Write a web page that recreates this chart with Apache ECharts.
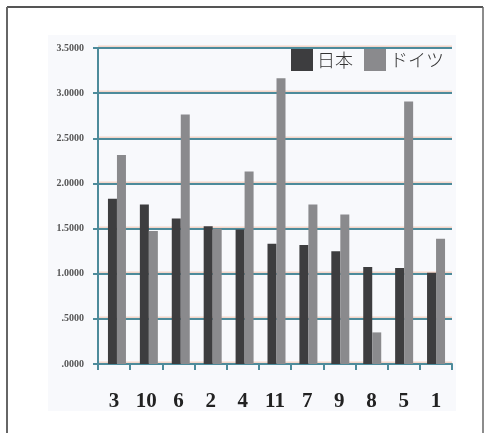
<!DOCTYPE html>
<html>
<head>
<meta charset="utf-8">
<style>
    html, body { margin: 0; padding: 0; background: #fff; }
    #chart { width: 492px; height: 433px; }
</style>
<script src="https://cdn.jsdelivr.net/npm/echarts@6/dist/echarts.min.js"></script>
</head>
<body>
<div id="chart"></div>
<script>
const categories = ['3', '10', '6', '2', '4', '11', '7', '9', '8', '5', '1']
const japan = [1.83, 1.767, 1.612, 1.527, 1.49, 1.332, 1.317, 1.25, 1.073, 1.062, 1.01]
const germany = [2.316, 1.472, 2.763, 1.498, 2.132, 3.165, 1.767, 1.656, 0.35, 2.907, 1.387]
const seriesNames = ['日本', 'ドイツ']

const teal = '#4d8b9b'
const mChart = echarts.init(document.getElementById('chart'))

// y 軸ラベル: 1 未満は先頭の 0 を落とす
const fmtY = (v) => {
    const s = v.toFixed(4)
    return v < 1 ? s.slice(1) : s
}

const option = {
    animation: false,
    graphic: [
        // 外枠
        { type: 'line', shape: { x1: 7, y1: 7, x2: 483, y2: 7 }, style: { stroke: '#555', lineWidth: 2 } },
        { type: 'line', shape: { x1: 7, y1: 7, x2: 7, y2: 433 }, style: { stroke: '#666', lineWidth: 2 } },
        { type: 'line', shape: { x1: 483, y1: 7, x2: 483, y2: 433 }, style: { stroke: '#666', lineWidth: 1.5 } },
        // 図の背景
        { type: 'rect', shape: { x: 48, y: 35, width: 408, height: 376 }, style: { fill: '#f8f9fc' }, z: -10 }
    ],
    legend: {
        left: 291,
        top: 49,
        itemWidth: 22,
        itemHeight: 22,
        itemGap: 11,
        padding: 0,
        icon: 'rect',
        data: seriesNames,
        textStyle: {
            fontFamily: 'Noto Sans CJK JP',
            fontWeight: 300,
            fontSize: 18,
            color: '#333',
            padding: [0, 0, 0, -1]
        }
    },
    grid: [
        { left: 98, right: 40, top: 48, bottom: 69 },
        { left: 101, right: 40, top: 48, bottom: 69 }
    ],
    xAxis: [
        {
            type: 'category',
            gridIndex: 0,
            data: categories,
            axisLine: { lineStyle: { color: teal, width: 2 } },
            axisTick: { show: true, length: 6, inside: false, lineStyle: { color: teal, width: 2 } },
            axisLabel: {
                margin: 27,
                fontFamily: 'Liberation Serif',
                fontWeight: 'bold',
                fontSize: 21,
                color: '#222'
            }
        },
        {
            type: 'category',
            gridIndex: 1,
            data: categories,
            show: false
        }
    ],
    yAxis: [
        {
            type: 'value',
            gridIndex: 0,
            min: 0,
            max: 3.5,
            interval: 0.5,
            axisLine: { show: true, lineStyle: { color: teal, width: 2 } },
            axisTick: { show: true, length: 5, lineStyle: { color: teal, width: 2 } },
            axisLabel: {
                margin: 14,
                formatter: fmtY,
                fontFamily: 'Liberation Serif',
                fontWeight: 'bold',
                fontSize: 10,
                color: '#555'
            },
            splitLine: {
                show: true,
                lineStyle: {
                    color: teal,
                    width: 2,
                    shadowColor: 'rgba(240, 170, 140, 0.45)',
                    shadowOffsetY: -1.5
                }
            }
        },
        {
            type: 'value',
            gridIndex: 1,
            min: 0,
            max: 3.5,
            interval: 0.5,
            show: false,
            splitLine: { show: false }
        }
    ],
    series: [
        {
            name: seriesNames[0],
            type: 'bar',
            xAxisIndex: 1,
            yAxisIndex: 1,
            data: japan,
            barWidth: 9,
            barGap: '0%',
            itemStyle: { color: '#3d3d3f' }
        },
        {
            name: seriesNames[1],
            type: 'bar',
            xAxisIndex: 1,
            yAxisIndex: 1,
            data: germany,
            barWidth: 9,
            barGap: '0%',
            itemStyle: { color: '#8a8a8d' }
        }
    ]
}
mChart.setOption(option)
</script>
</body>
</html>
